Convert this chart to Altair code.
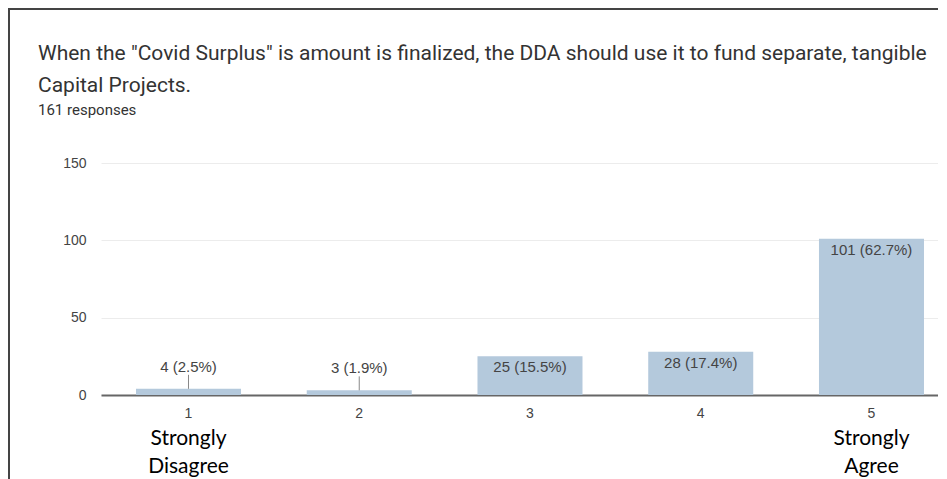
import altair as alt
import pandas as pd

categories = ["1", "2", "3", "4", "5"]
counts = [4, 3, 25, 28, 101]
percents = [2.5, 1.9, 15.5, 17.4, 62.7]
end_labels = {"1": ["Strongly", "Disagree"], "5": ["Strongly", "Agree"]}
y_ticks = [0, 25, 50, 75, 100, 125, 150]

title_lines = [
    'When the "Covid Surplus" is amount is finalized, the DDA should use it to fund separate, tangible',
    "Capital Projects.",
]
subtitle = "161 responses"

df = pd.DataFrame({
    "cat": categories,
    "count": counts,
    "label": [f"{c} ({p}%)" for c, p in zip(counts, percents)],
})
end_df = pd.DataFrame({"cat": list(end_labels.keys()), "txt": list(end_labels.values())})
title_df = pd.DataFrame({"txt": [title_lines]})
sub_df = pd.DataFrame({"txt": [subtitle]})

W, H = 837, 232
PAD_L, PAD_T = 93, 155

xscale = alt.Scale(domain=categories, paddingInner=0.385, paddingOuter=0.1435, align=0.714)
yscale = alt.Scale(domain=[0, 150], nice=False)

base = alt.Chart(df)

bars = base.mark_bar(color="#b4c9dc").encode(
    x=alt.X("cat:N", scale=xscale, sort=categories, title=None,
            axis=alt.Axis(labelAngle=0, ticks=False, domainColor="#666", domainWidth=2,
                          labelFont="Liberation Sans", labelFontSize=14, labelColor="#444",
                          labelPadding=11, grid=False)),
    y=alt.Y("count:Q", scale=yscale, title=None,
            axis=alt.Axis(values=y_ticks, labelExpr="datum.value % 50 === 0 ? datum.label : ''",
                          ticks=False, domain=False, gridColor="#ececec", gridWidth=1,
                          labelFont="Liberation Sans", labelFontSize=14, labelColor="#444",
                          labelPadding=15)),
)

inside = base.transform_filter("datum.count >= 10").mark_text(
    baseline="middle", dy=11, font="Liberation Sans", fontSize=15, color="#444"
).encode(x=alt.X("cat:N", scale=xscale, sort=categories), y=alt.Y("count:Q", scale=yscale), text="label:N")

outside = base.transform_filter("datum.count < 10").mark_text(
    baseline="middle", dy=-22, font="Liberation Sans", fontSize=15, color="#444"
).encode(x=alt.X("cat:N", scale=xscale, sort=categories), y=alt.Y("count:Q", scale=yscale), text="label:N")

leaders = base.transform_filter("datum.count < 10").mark_rule(color="#888", strokeWidth=1, y2Offset=-14).encode(
    x=alt.X("cat:N", scale=xscale, sort=categories), y=alt.Y("count:Q", scale=yscale), y2="count:Q"
)

ends = alt.Chart(end_df).mark_text(
    baseline="alphabetic", font="Lato", fontSize=21, color="#000", lineHeight=28
).encode(x=alt.X("cat:N", scale=xscale, sort=categories), y=alt.value(H + 50), text="txt")

title_mark = alt.Chart(title_df).mark_text(
    align="left", baseline="alphabetic", font="Roboto", fontSize=21, color="#333", lineHeight=32
).encode(x=alt.value(-63), y=alt.value(-103), text="txt")

sub_mark = alt.Chart(sub_df).mark_text(
    align="left", baseline="alphabetic", font="Roboto", fontSize=15, color="#333"
).encode(x=alt.value(-63), y=alt.value(-48), text="txt:N")

border_left = alt.Chart(df).mark_rule(color="#444", strokeWidth=2).encode(
    x=alt.value(-PAD_L + 1), y=alt.value(-PAD_T), y2=alt.value(H + 90)
)
border_top = alt.Chart(df).mark_rule(color="#444", strokeWidth=2).encode(
    x=alt.value(-PAD_L), x2=alt.value(W + 20), y=alt.value(-PAD_T + 1)
)

chart = alt.layer(bars, leaders, inside, outside, ends, title_mark, sub_mark, border_left, border_top).properties(
    width=W, height=H,
    autosize=alt.AutoSizeParams(type="none"),
    padding={"left": PAD_L, "top": PAD_T, "right": 0, "bottom": 84},
).configure_view(stroke=None)

chart.save("out.html", embed_options={"renderer": "svg", "actions": False})
